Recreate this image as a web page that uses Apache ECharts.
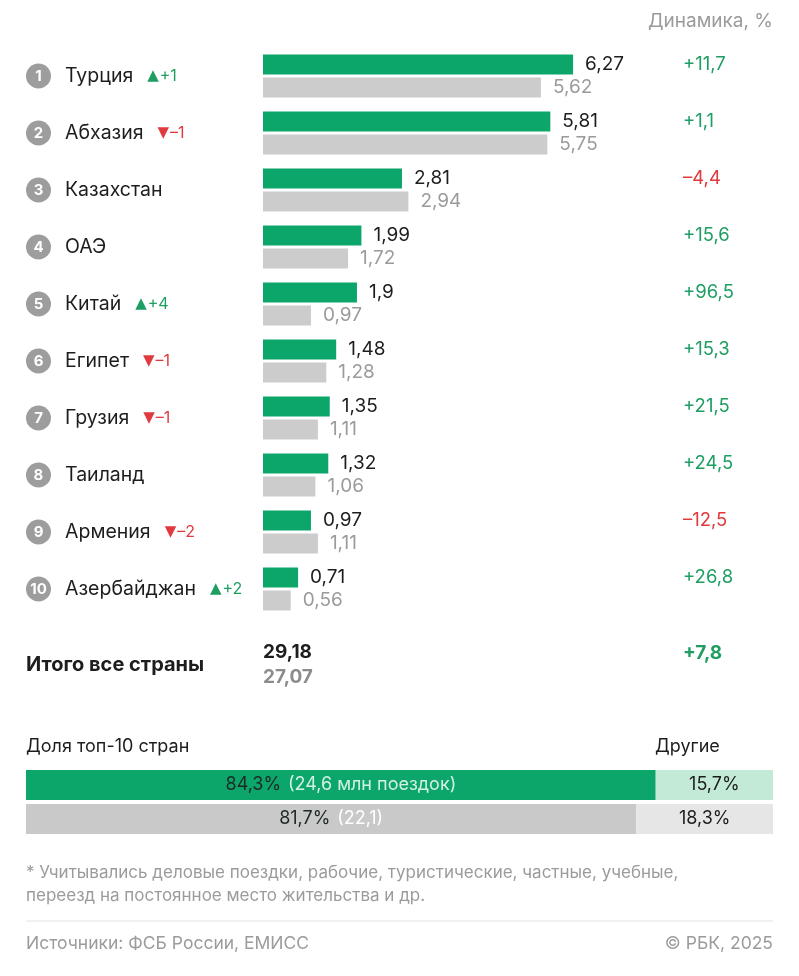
<!DOCTYPE html>
<html><head><meta charset="utf-8">
<script src="https://cdn.jsdelivr.net/npm/echarts@6/dist/echarts.min.js"></script>
<style>html,body{margin:0;padding:0;background:#fff}#c{width:799px;height:976px}</style>
</head><body><div id="c"></div>
<script>
const countries = ['Турция','Абхазия','Казахстан','ОАЭ','Китай','Египет','Грузия','Таиланд','Армения','Азербайджан'];
const cur = [6.27,5.81,2.81,1.99,1.9,1.48,1.35,1.32,0.97,0.71];
const prev = [5.62,5.75,2.94,1.72,0.97,1.28,1.11,1.06,1.11,0.56];
const dyn = [11.7,1.1,-4.4,15.6,96.5,15.3,21.5,24.5,-12.5,26.8];
const rankChange = [1,-1,0,0,4,-1,-1,0,-2,2];
const totals = [29.18, 27.07];
const totalDyn = 7.8;
const shareRows = ['2025','2024'];
const shareTop = [84.3, 81.7];
const shareOther = [15.7, 18.3];
const shareTrips = [24.6, 22.1];

const GREEN = '#0ca66b', GRAY = '#cccccc', TXT = '#1d1d1d', MUTED = '#9b9b9b', POS = '#1f9e63', NEG = '#e0393e';
const FONT = 'Inter, Roboto, "Noto Sans", sans-serif';
const fmt = v => String(v).replace('.', ',');
const sgn = v => (v >= 0 ? '+' : '–') + fmt(Math.abs(v));

const chart = echarts.init(document.getElementById('c'), null, {renderer: 'canvas'});
chart.setOption({
  animation: false,
  textStyle: {fontFamily: FONT},
  grid: [
    {left: 263, top: 47.5, width: 408, height: 570},
    {left: 26, top: 768, width: 747, height: 68}
  ],
  xAxis: [
    {gridIndex: 0, type: 'value', min: 0, max: 8.25, show: false},
    {gridIndex: 1, type: 'value', min: 0, max: 100, show: false}
  ],
  yAxis: [
    {gridIndex: 0, type: 'category', data: countries, inverse: true,
     axisLine: {show: false}, axisTick: {show: false}, splitLine: {show: false},
     axisLabel: {
       align: 'left', margin: 237, fontFamily: FONT,
       formatter: (v, i) => {
         let s = '{c|' + (i + 1) + '}{n|' + v + '}';
         const r = rankChange[i];
         if (r > 0) s += '{ut|▲}{u|+' + r + '}';
         else if (r < 0) s += '{dt|▼}{d|–' + Math.abs(r) + '}';
         return s;
       },
       rich: {
         c: {backgroundColor: '#9d9d9d', color: '#fff', width: 25, height: 25, borderRadius: 12.5, align: 'center', fontSize: 15, fontWeight: 'bold', fontFamily: FONT, lineHeight: 25},
         n: {fontSize: 19.5, color: TXT, padding: [0, 0, 0, 14], fontFamily: FONT},
         ut: {fontSize: 15, color: POS, padding: [0, 1, 0, 14], fontFamily: 'DejaVu Sans'},
         u: {fontSize: 16, color: POS, fontFamily: FONT},
         dt: {fontSize: 15, color: NEG, padding: [0, 1, 0, 14], fontFamily: 'DejaVu Sans'},
         d: {fontSize: 16, color: NEG, fontFamily: FONT}
       }
     }},
    {gridIndex: 0, type: 'category', data: countries, inverse: true, position: 'right',
     axisLine: {show: false}, axisTick: {show: false}, splitLine: {show: false},
     axisLabel: {
       margin: 12, fontSize: 18.5, padding: [0, 0, 24, 0], fontFamily: FONT,
       formatter: (v, i) => (dyn[i] >= 0 ? '{p|' : '{m|') + sgn(dyn[i]) + '}',
       rich: {p: {color: POS, fontSize: 18.5, fontFamily: FONT}, m: {color: NEG, fontSize: 18.5, fontFamily: FONT}}
     }},
    {gridIndex: 1, type: 'category', data: shareRows, inverse: true, show: false}
  ],
  series: [
    {type: 'bar', xAxisIndex: 0, yAxisIndex: 0, data: cur, barWidth: 20, barGap: '15%',
     itemStyle: {color: GREEN}, silent: true,
     label: {show: true, position: 'right', distance: 12, color: TXT, fontSize: 19, fontFamily: FONT, formatter: p => fmt(p.value)}},
    {type: 'bar', xAxisIndex: 0, yAxisIndex: 0, data: prev, barWidth: 20, barGap: '15%',
     itemStyle: {color: GRAY}, silent: true,
     label: {show: true, position: 'right', distance: 12, color: MUTED, fontSize: 19, fontFamily: FONT, formatter: p => fmt(p.value)}},
    {type: 'bar', xAxisIndex: 1, yAxisIndex: 2, stack: 'share', barWidth: 30, silent: true,
     data: [
       {value: shareTop[0], itemStyle: {color: GREEN}, label: {rich: {b: {color: '#d3f1e2', fontSize: 18, fontFamily: FONT}}}},
       {value: shareTop[1], itemStyle: {color: '#c9c9c9'}, label: {rich: {b: {color: '#ffffff', fontSize: 18, fontFamily: FONT}}}}
     ],
     label: {show: true, position: 'inside', fontFamily: FONT,
       formatter: p => '{a|' + fmt(p.value) + '%}  {b|(' + fmt(shareTrips[p.dataIndex]) + (p.dataIndex === 0 ? ' млн поездок' : '') + ')}',
       rich: {a: {color: '#1d2a22', fontSize: 18, fontFamily: FONT}, b: {fontSize: 18, fontFamily: FONT}}}},
    {type: 'bar', xAxisIndex: 1, yAxisIndex: 2, stack: 'share', barWidth: 30, silent: true,
     data: [
       {value: shareOther[0], itemStyle: {color: '#c3ead6'}},
       {value: shareOther[1], itemStyle: {color: '#e6e6e6'}}
     ],
     label: {show: true, position: 'inside', color: TXT, fontSize: 18, fontFamily: FONT, formatter: p => fmt(p.value) + '%'}}
  ],
  graphic: [
    {type: 'text', right: 26, top: 12, style: {text: 'Динамика, %', fill: MUTED, fontSize: 19, fontFamily: FONT}},
    {type: 'text', left: 26, top: 655, style: {text: 'Итого все страны', fill: TXT, fontSize: 20, fontWeight: 'bold', fontFamily: FONT}},
    {type: 'text', left: 263, top: 643, style: {text: fmt(totals[0]), fill: TXT, fontSize: 19, fontWeight: 'bold', fontFamily: FONT}},
    {type: 'text', left: 263, top: 668, style: {text: fmt(totals[1]), fill: '#8c8c8c', fontSize: 19, fontWeight: 'bold', fontFamily: FONT}},
    {type: 'text', left: 683, top: 644, style: {text: sgn(totalDyn), fill: POS, fontSize: 19, fontWeight: 'bold', fontFamily: FONT}},
    {type: 'text', left: 26, top: 738, style: {text: 'Доля топ-10 стран', fill: TXT, fontSize: 18, fontFamily: FONT}},
    {type: 'text', left: 655, top: 738, style: {text: 'Другие', fill: TXT, fontSize: 18, fontFamily: FONT}},
    {type: 'text', left: 26, top: 861, style: {text: '* Учитывались деловые поездки, рабочие, туристические, частные, учебные,\nпереезд на постоянное место жительства и др.', fill: MUTED, fontSize: 17, lineHeight: 23, fontFamily: FONT}},
    {type: 'line', shape: {x1: 26, y1: 921, x2: 773, y2: 921}, style: {stroke: '#e3e3e3', lineWidth: 1}},
    {type: 'text', left: 26, top: 935, style: {text: 'Источники: ФСБ России, ЕМИСС', fill: MUTED, fontSize: 17.5, fontFamily: FONT}},
    {type: 'text', right: 26, top: 935, style: {text: '© РБК, 2025', fill: MUTED, fontSize: 17.5, fontFamily: FONT}}
  ]
});
</script>
</body></html>
